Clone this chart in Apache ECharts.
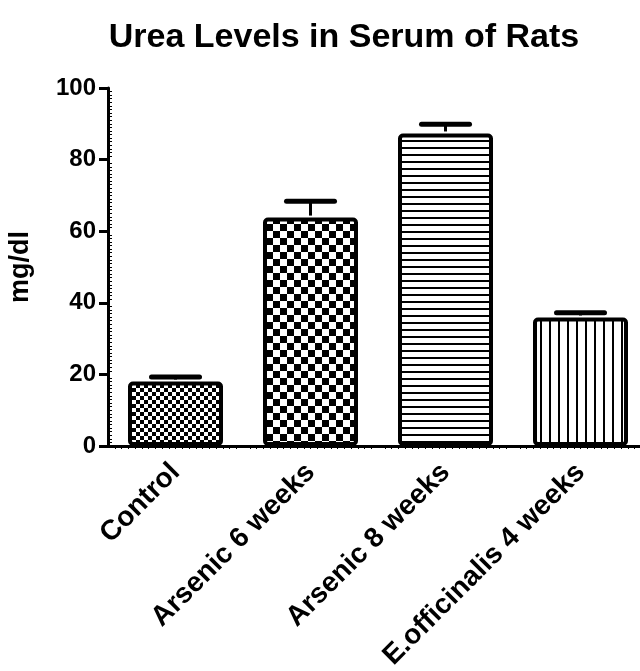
<!DOCTYPE html>
<html><head><meta charset="utf-8">
<script src="https://cdn.jsdelivr.net/npm/echarts@6/dist/echarts.min.js"></script>
<style>html,body{margin:0;padding:0;background:#fff}#c{width:640px;height:671px}</style>
</head><body><div id="c"></div>
<script>
const categories = ['Control', 'Arsenic 6 weeks', 'Arsenic 8 weeks', 'E.officinalis 4 weeks'];
const means = [18.0, 63.8, 87.3, 35.9];
const errors = [1.3, 4.6, 2.6, 1.3];
const yTicks = [0, 20, 40, 60, 80, 100];

function makePattern(kind) {
  const c = document.createElement('canvas');
  const ctx = c.getContext('2d');
  if (kind === 'fineCheck' || kind === 'coarseCheck') {
    const s = kind === 'fineCheck' ? 4 : 7;
    c.width = c.height = 2 * s;
    ctx.fillStyle = '#fff'; ctx.fillRect(0, 0, 2 * s, 2 * s);
    ctx.fillStyle = '#000';
    ctx.fillRect(0, 0, s, s); ctx.fillRect(s, s, s, s);
  } else if (kind === 'hlines') {
    c.width = 8; c.height = 7;
    ctx.fillStyle = '#fff'; ctx.fillRect(0, 0, 8, 7);
    ctx.fillStyle = '#000'; ctx.fillRect(0, 0, 8, 2);
  } else {
    c.width = 9; c.height = 8;
    ctx.fillStyle = '#fff'; ctx.fillRect(0, 0, 9, 8);
    ctx.fillStyle = '#000'; ctx.fillRect(0, 0, 2, 8);
  }
  return { image: c, repeat: 'repeat' };
}
const patterns = ['fineCheck', 'coarseCheck', 'hlines', 'vlines'].map(makePattern);

const font = 'Liberation Sans, Arial, sans-serif';
const chart = echarts.init(document.getElementById('c'), null, { renderer: 'canvas' });
chart.setOption({
  backgroundColor: '#fff',
  animation: false,
  title: {
    text: 'Urea Levels in Serum of Rats', left: 339, top: 16, textAlign: 'center',
    textStyle: { fontFamily: font, fontSize: 34, fontWeight: 'bold', color: '#000' }
  },
  grid: { left: 108, width: 540, top: 88, bottom: 225, containLabel: false, outerBoundsMode: 'none' },
  xAxis: [{
    type: 'category', data: categories,
    axisLine: { lineStyle: { color: '#000', width: 3 } },
    axisTick: { alignWithLabel: true, length: 11, lineStyle: { color: '#000', width: 3 } },
    axisLabel: { rotate: 45, margin: 22, color: '#000', fontFamily: font, fontSize: 28, fontWeight: 'bold', interval: 0 }
  }, {
    type: 'value', min: 0, max: 4, position: 'bottom', show: true,
    axisLine: { show: false }, axisLabel: { show: false }, splitLine: { show: false },
    axisTick: { show: false }, splitNumber: 4,
    minorTick: { show: true, splitNumber: 20, length: 3, lineStyle: { color: '#000', width: 1 } }
  }],
  yAxis: [{
    type: 'value', min: 0, max: 100, interval: 20,
    name: 'mg/dl', nameLocation: 'middle', nameGap: 74, nameRotate: 90,
    nameTextStyle: { fontFamily: font, fontSize: 27, fontWeight: 'bold', color: '#000' },
    axisLine: { show: true, lineStyle: { color: '#000', width: 3 } },
    axisTick: { show: true, length: 9, lineStyle: { color: '#000', width: 3 } },
    axisLabel: { margin: 12, color: '#000', fontFamily: font, fontSize: 24, fontWeight: 'bold',
      formatter: v => yTicks.includes(v) ? String(v) : '' },
    splitLine: { show: false }
  }, {
    type: 'value', min: 0, max: 100, interval: 20, position: 'left',
    axisLine: { show: false }, axisLabel: { show: false }, splitLine: { show: false },
    axisTick: { show: false, inside: true },
    minorTick: { show: true, splitNumber: 20, length: 4, lineStyle: { color: '#000', width: 1 } }
  }],
  series: [{
    type: 'bar', xAxisIndex: 0, yAxisIndex: 0,
    barWidth: 95,
    data: means.map((v, i) => ({
      value: v,
      itemStyle: { color: patterns[i], borderColor: '#000', borderWidth: 4, borderRadius: 3 }
    })),
    z: 2
  }, {
    type: 'custom', xAxisIndex: 0, yAxisIndex: 0, z: 3,
    data: means.map((v, i) => [i, v, v + errors[i]]),
    renderItem: function (params, api) {
      const x = api.value(0);
      const base = api.coord([x, api.value(1)]);
      const top = api.coord([x, api.value(2)]);
      const hw = 24;
      return {
        type: 'group',
        children: [
          { type: 'line', shape: { x1: base[0], y1: base[1] - 2, x2: top[0], y2: top[1] },
            style: { stroke: '#000', lineWidth: 3 } },
          { type: 'line', shape: { x1: top[0] - hw, y1: top[1], x2: top[0] + hw, y2: top[1] },
            style: { stroke: '#000', lineWidth: 5, lineCap: 'round' } }
        ]
      };
    }
  }]
});
</script>
</body></html>
